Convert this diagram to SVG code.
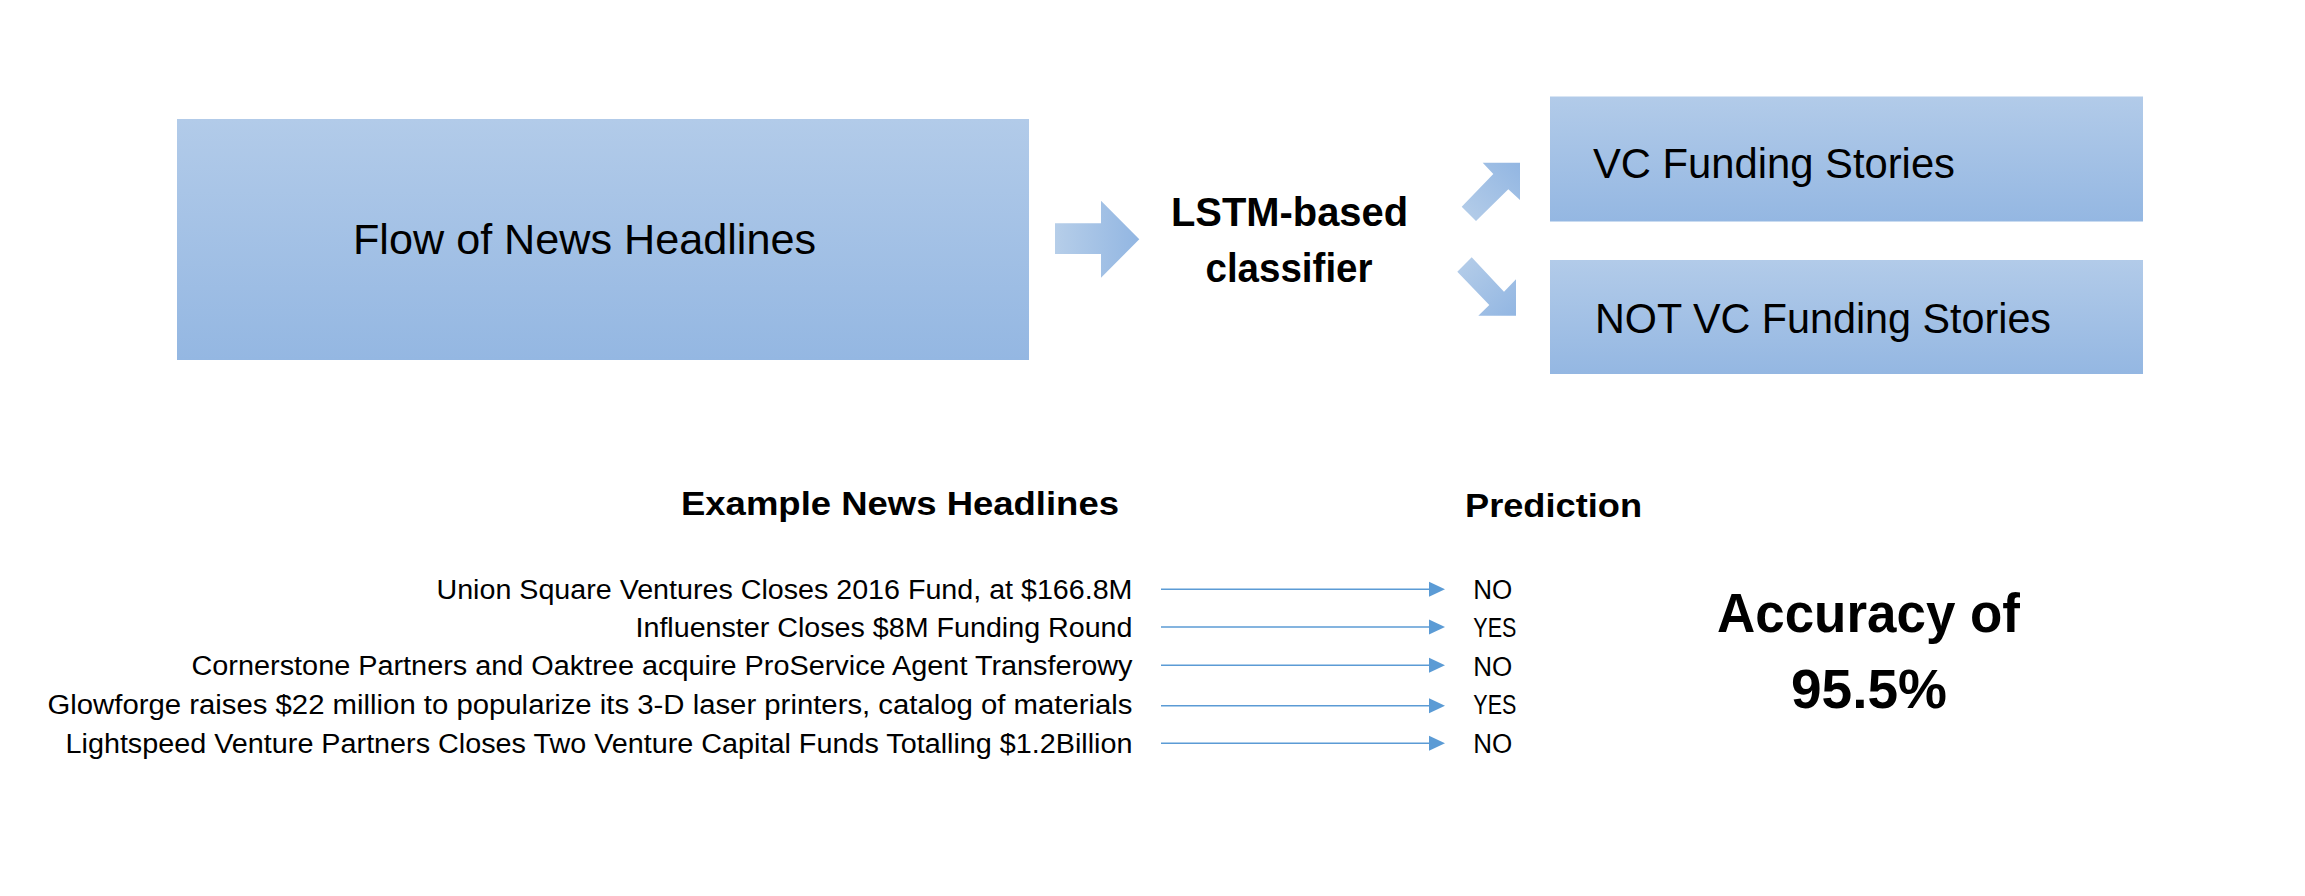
<svg xmlns="http://www.w3.org/2000/svg" width="2305" height="896" viewBox="0 0 2305 896">
<defs>
<style>
text{font-family:"Liberation Sans",Arial,sans-serif;fill:#000}
.box{font-size:42px}
.bold{font-weight:bold}
.hl{font-size:27px}
.pr{font-size:27px}
.conn{stroke:#5b9bd5;stroke-width:1.6;fill:none}
</style>
<linearGradient id="gBox" x1="0" y1="0" x2="0" y2="1">
<stop offset="0" stop-color="#b2cbe9"/>
<stop offset="1" stop-color="#94b7e2"/>
</linearGradient>
<linearGradient id="gR" x1="0" y1="0" x2="1" y2="0">
<stop offset="0" stop-color="#b6cee9"/>
<stop offset="1" stop-color="#92b6e2"/>
</linearGradient>
<linearGradient id="gUp" x1="0" y1="1" x2="1" y2="0">
<stop offset="0" stop-color="#b6cee9"/>
<stop offset="1" stop-color="#92b6e2"/>
</linearGradient>
<linearGradient id="gDn" x1="0" y1="0" x2="1" y2="1">
<stop offset="0" stop-color="#b6cee9"/>
<stop offset="1" stop-color="#92b6e2"/>
</linearGradient>
<marker id="tri" markerUnits="userSpaceOnUse" markerWidth="16" markerHeight="16" viewBox="0 0 16 16" refX="1" refY="8" orient="auto">
<path d="M0,0.5 L16,8 L0,15.5 z" fill="#5b9bd5"/>
</marker>
</defs>
<rect width="2305" height="896" fill="#fff"/>

<g id="flow">
<rect x="177" y="119" width="852" height="241" fill="url(#gBox)"/>
<text class="box" x="353" y="254" textLength="463" lengthAdjust="spacingAndGlyphs">Flow of News Headlines</text>
</g>

<g id="classifier">
<text class="bold" font-size="40" x="1171" y="225.5" textLength="237" lengthAdjust="spacingAndGlyphs">LSTM-based</text>
<text class="bold" font-size="40" x="1205.5" y="281.5" textLength="167" lengthAdjust="spacingAndGlyphs">classifier</text>
</g>

<g id="vc">
<rect x="1550" y="96.5" width="593" height="125" fill="url(#gBox)"/>
<text class="box" x="1593" y="178" textLength="362" lengthAdjust="spacingAndGlyphs">VC Funding Stories</text>
</g>

<g id="notvc">
<rect x="1550" y="260" width="593" height="114" fill="url(#gBox)"/>
<text class="box" x="1595" y="333" textLength="456" lengthAdjust="spacingAndGlyphs">NOT VC Funding Stories</text>
</g>

<g id="connectors">
<polygon points="1055,223.3 1101,223.3 1101,200.7 1139.3,239.3 1101,277.7 1101,254 1055,254" fill="url(#gR)"/>
<polygon points="1461.7,206.7 1493.3,174 1482.7,162.7 1520,162.7 1520,200 1508.3,189.3 1476,221" fill="url(#gUp)"/>
<polygon points="1471.7,257.3 1504,291.7 1516,279.3 1516,315.7 1478.3,315.7 1489.3,305 1457.3,271.7" fill="url(#gDn)"/>
<line class="conn" x1="1161" y1="589.3" x2="1430" y2="589.3" marker-end="url(#tri)"/>
<line class="conn" x1="1161" y1="627" x2="1430" y2="627" marker-end="url(#tri)"/>
<line class="conn" x1="1161" y1="665.3" x2="1430" y2="665.3" marker-end="url(#tri)"/>
<line class="conn" x1="1161" y1="705.7" x2="1430" y2="705.7" marker-end="url(#tri)"/>
<line class="conn" x1="1161" y1="743.3" x2="1430" y2="743.3" marker-end="url(#tri)"/>
</g>

<g id="headlines">
<text class="bold" font-size="33" x="681" y="515" textLength="438" lengthAdjust="spacingAndGlyphs">Example News Headlines</text>
<text class="hl" x="1132.5" y="598.5" text-anchor="end" textLength="696" lengthAdjust="spacingAndGlyphs">Union Square Ventures Closes 2016 Fund, at $166.8M</text>
<text class="hl" x="1132.5" y="636.7" text-anchor="end" textLength="497" lengthAdjust="spacingAndGlyphs">Influenster Closes $8M Funding Round</text>
<text class="hl" x="1132.5" y="675" text-anchor="end" textLength="941" lengthAdjust="spacingAndGlyphs">Cornerstone Partners and Oaktree acquire ProService Agent Transferowy</text>
<text class="hl" x="1132.5" y="714" text-anchor="end" textLength="1085" lengthAdjust="spacingAndGlyphs">Glowforge raises $22 million to popularize its 3-D laser printers, catalog of materials</text>
<text class="hl" x="1132.5" y="752.7" text-anchor="end" textLength="1067" lengthAdjust="spacingAndGlyphs">Lightspeed Venture Partners Closes Two Venture Capital Funds Totalling $1.2Billion</text>
</g>

<g id="prediction">
<text class="bold" font-size="33" x="1465" y="516.7" textLength="177" lengthAdjust="spacingAndGlyphs">Prediction</text>
<text class="pr" x="1473.3" y="599" textLength="39" lengthAdjust="spacingAndGlyphs">NO</text>
<text class="pr" x="1473.3" y="636.7" textLength="43" lengthAdjust="spacingAndGlyphs">YES</text>
<text class="pr" x="1473.3" y="676" textLength="39" lengthAdjust="spacingAndGlyphs">NO</text>
<text class="pr" x="1473.3" y="713.5" textLength="43" lengthAdjust="spacingAndGlyphs">YES</text>
<text class="pr" x="1473.3" y="752.7" textLength="39" lengthAdjust="spacingAndGlyphs">NO</text>
</g>

<g id="accuracy">
<text class="bold" font-size="56" x="1717" y="631.7" textLength="303" lengthAdjust="spacingAndGlyphs">Accuracy of</text>
<text class="bold" font-size="56" x="1791" y="708" textLength="156" lengthAdjust="spacingAndGlyphs">95.5%</text>
</g>
</svg>
